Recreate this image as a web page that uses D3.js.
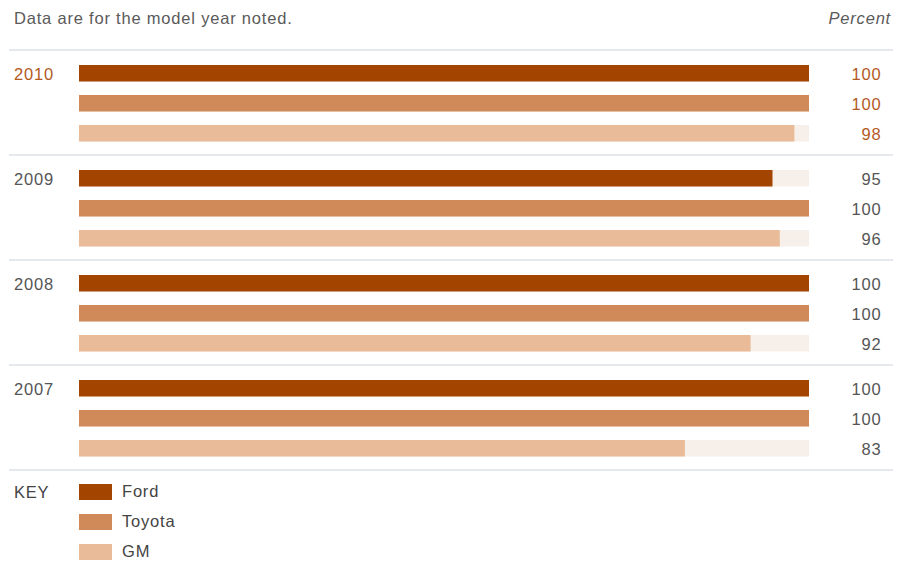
<!DOCTYPE html>
<html>
<head>
<meta charset="utf-8">
<script src="https://cdn.jsdelivr.net/npm/d3@7"></script>
<style>
  html, body { margin: 0; padding: 0; background: #fff; }
  svg { display: block; font-family: "Liberation Sans", Arial, sans-serif; }
  text { letter-spacing: 0.8px; }
</style>
</head>
<body>
<svg id="chart" width="898" height="569"></svg>
<script>
// Model years, newest first
const years = ["2010", "2009", "2008", "2007"];
// Automakers shown in each year group
const makers = ["Ford", "Toyota", "GM"];
// Percent values per maker, aligned with years
const fordValues = [100, 95, 100, 100];
const toyotaValues = [100, 100, 100, 100];
const gmValues = [98, 96, 92, 83];

const makerColors = ["#a34400", "#d08a5a", "#e9bb98"];
const series = [fordValues, toyotaValues, gmValues];

const svg = d3.select("#chart");
const FS = 16.5;

// Header
svg.append("text")
  .attr("x", 14).attr("y", 24)
  .attr("font-size", FS).attr("fill", "#5a5a5a")
  .text("Data are for the model year noted.");
svg.append("text")
  .attr("x", 891).attr("y", 24)
  .attr("text-anchor", "end")
  .attr("font-size", FS).attr("font-style", "italic").attr("fill", "#5a5a5a")
  .text("Percent");

// Scales
const x = d3.scaleLinear().domain([0, 100]).range([79, 809]);
const groupY = d3.scaleBand().domain(years).range([50, 470]).padding(0);

const barH = 16.5;

// Separator lines
const seps = years.map(y => groupY(y)).concat([470]);
svg.selectAll("line.sep").data(seps).join("line")
  .attr("class", "sep")
  .attr("x1", 9).attr("x2", 893)
  .attr("y1", d => d).attr("y2", d => d)
  .attr("stroke", "#dde1e6").attr("stroke-width", 1.5);

const groups = svg.selectAll("g.year").data(years).join("g")
  .attr("class", "year")
  .attr("transform", d => `translate(0,${groupY(d)})`);

groups.append("text")
  .attr("x", 14).attr("y", 29.5)
  .attr("font-size", FS)
  .attr("fill", (d, i) => i === 0 ? "#b35a1f" : "#555")
  .text(d => d);

groups.each(function (yr, yi) {
  const g = d3.select(this);
  makers.forEach((m, mi) => {
    const v = series[mi][yi];
    const top = 15 + mi * 30;
    // track
    g.append("rect")
      .attr("x", x(0)).attr("y", top)
      .attr("width", x(100) - x(0)).attr("height", barH)
      .attr("fill", "#f7f0ea");
    // value bar
    g.append("rect")
      .attr("x", x(0)).attr("y", top)
      .attr("width", x(v) - x(0)).attr("height", barH)
      .attr("fill", makerColors[mi]);
    // value label
    g.append("text")
      .attr("x", 881.5).attr("y", top + 15)
      .attr("text-anchor", "end")
      .attr("font-size", FS)
      .attr("fill", yi === 0 ? "#b35a1f" : "#555")
      .text(v);
  });
});

// Key
svg.append("text")
  .attr("x", 14).attr("y", 498)
  .attr("font-size", FS).attr("fill", "#444")
  .text("KEY");
makers.forEach((m, i) => {
  svg.append("rect")
    .attr("x", 79).attr("y", 484 + i * 30)
    .attr("width", 33).attr("height", 16)
    .attr("fill", makerColors[i]);
  svg.append("text")
    .attr("x", 122).attr("y", 497 + i * 30)
    .attr("font-size", FS).attr("fill", "#444")
    .text(m);
});
</script>
</body>
</html>
